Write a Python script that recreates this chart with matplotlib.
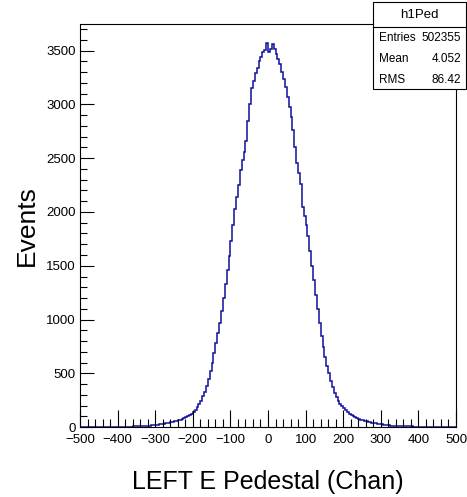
import numpy as np
import matplotlib
matplotlib.use("Agg")
import matplotlib.pyplot as plt
from matplotlib.ticker import MultipleLocator

plt.rcParams['font.family'] = ['Liberation Sans', 'DejaVu Sans']

# histogram h1Ped, 5-channel bins from -500 to 500 (counts)
bin_low = -500
bin_high = 500
counts = [
    # -500 .. -355
    0, 1, 0, 0, 1, 0, 1, 1, 0, 1, 1, 0, 1, 2, 1, 1, 2, 1, 2, 2,
    2, 3, 2, 3, 3, 4, 3, 4, 5, 5,
    # -350 .. -305
    6, 7, 8, 8, 10, 11, 13, 14, 16, 18,
    # -300 .. -255
    20, 23, 25, 27, 30, 33, 36, 39, 43, 47,
    # -250 .. -205
    52, 56, 61, 68, 74, 82, 91, 100, 112, 124,
    # -200 .. -155
    140, 160, 185, 215, 245, 285, 330, 385, 450, 525,
    # -150 .. -105
    600, 690, 780, 870, 970, 1080, 1200, 1330, 1460, 1590,
    # -100 .. -55
    1730, 1880, 2030, 2140, 2250, 2390, 2480, 2560, 2660, 2850,
    # -50 .. -5
    3000, 3150, 3220, 3290, 3340, 3400, 3440, 3490, 3510, 3570,
    # 0 .. 45
    3490, 3520, 3560, 3520, 3470, 3420, 3380, 3300, 3240, 3160,
    # 50 .. 95
    3070, 2980, 2880, 2760, 2600, 2460, 2360, 2260, 2050, 1960,
    # 100 .. 145
    1880, 1780, 1640, 1500, 1370, 1230, 1100, 970, 850, 740,
    # 150 .. 195
    650, 570, 500, 430, 370, 320, 280, 245, 215, 195,
    # 200 .. 245
    175, 155, 140, 125, 112, 100, 90, 80, 72, 66,
    # 250 .. 295
    62, 57, 52, 47, 43, 40, 36, 33, 30, 28,
    # 300 .. 345
    25, 23, 20, 18, 16, 14, 13, 12, 10, 9,
    # 350 .. 495
    8, 8, 7, 6, 6, 5, 5, 4, 4, 3, 3, 3, 2, 2, 2, 1, 2, 1, 1, 1,
    1, 0, 1, 1, 0, 0, 1, 0, 0, 1,
]

stat_names = ["Entries", "Mean", "RMS"]
stat_values = ["502355", "4.052", "86.42"]
hist_name = "h1Ped"

edges = np.linspace(bin_low, bin_high, len(counts) + 1)

fig = plt.figure(figsize=(4.67, 4.97), dpi=100)
ax = fig.add_axes([0.1713, 0.1408, 0.8051, 0.8109])

ax.stairs(counts, edges, color='#10109a', linewidth=1.1, baseline=None)

ax.set_xlim(bin_low, bin_high)
ax.set_ylim(0, max(counts) * 1.05)

ax.xaxis.set_major_locator(MultipleLocator(100))
ax.xaxis.set_minor_locator(MultipleLocator(20))
ax.yaxis.set_major_locator(MultipleLocator(500))
ax.yaxis.set_minor_locator(MultipleLocator(100))
ax.tick_params(which='both', direction='in', top=False, right=False,
               labelsize=9.5, width=0.8, color='black')
ax.tick_params(axis='x', which='major', length=12, pad=5)
ax.tick_params(axis='x', which='minor', length=6)
ax.tick_params(axis='y', which='major', length=10, pad=3)
ax.tick_params(axis='y', which='minor', length=5)
for s in ax.spines.values():
    s.set_linewidth(0.8)

ax.set_xlabel("LEFT E Pedestal (Chan)", fontsize=18, labelpad=17)
ax.set_ylabel("Events", fontsize=19, labelpad=5)

# stats box
bx0, bx1 = 373 / 467, 466 / 467
by_top, by_sep, by_bot = 1 - 2 / 497, 1 - 27 / 497, 1 - 89 / 497
fig.patches.append(plt.Rectangle((bx0, by_bot), bx1 - bx0, by_top - by_bot,
                                 transform=fig.transFigure, facecolor='white',
                                 edgecolor='black', linewidth=0.8, zorder=5))
fig.lines.append(plt.Line2D([bx0, bx1], [by_sep, by_sep], transform=fig.transFigure,
                            color='black', linewidth=0.8, zorder=6))
fig.text((bx0 + bx1) / 2, 1 - 15 / 497, hist_name, ha='center', va='center',
         fontsize=9.5, zorder=7)
for i, (name, val) in enumerate(zip(stat_names, stat_values)):
    yy = 1 - (38 + i * 21) / 497
    fig.text(379 / 467, yy, name, ha='left', va='center', fontsize=8.5, zorder=7)
    fig.text(461 / 467, yy, val, ha='right', va='center', fontsize=8.5, zorder=7)

fig.savefig("out.png", dpi=100)
